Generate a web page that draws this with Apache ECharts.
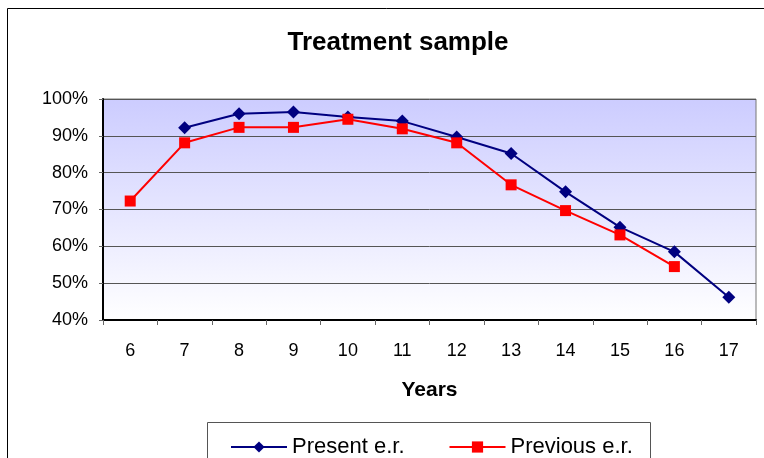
<!DOCTYPE html>
<html><head><meta charset="utf-8">
<script src="https://cdn.jsdelivr.net/npm/echarts@6/dist/echarts.min.js"></script>
<style>html,body{margin:0;padding:0;background:#fff}#c{width:764px;height:458px}</style>
</head><body><div id="c"></div>
<script>
const years = ['6','7','8','9','10','11','12','13','14','15','16','17'];
const presentER = [null, 92.2, 96.0, 96.5, 95.1, 94.0, 89.7, 85.2, 74.8, 65.2, 58.5, 46.2];
const previousER = [72.3, 88.1, 92.3, 92.3, 94.5, 91.9, 88.1, 76.7, 69.7, 63.1, 54.5, null];
const yTicks = [40, 50, 60, 70, 80, 90, 100];

const chart = echarts.init(document.getElementById('c'), null, {renderer: 'canvas'});
const font = 'Liberation Sans, Arial, sans-serif';
chart.setOption({
  animation: false,
  backgroundColor: '#fff',
  title: {
    text: 'Treatment sample', left: 393, top: 25, textAlign: 'center',
    textStyle: {fontFamily: font, fontSize: 26, fontWeight: 'bold', color: '#000'}
  },
  graphic: [
    {type: 'rect', shape: {x: 7.5, y: 8.5, width: 800, height: 500}, style: {fill: 'none', stroke: '#000', lineWidth: 1}, z: -1},
    {type: 'rect', shape: {x: 207.5, y: 422.5, width: 443, height: 60}, style: {fill: 'none', stroke: '#555', lineWidth: 1}, z: 0}
  ],
  legend: {
    left: 225, top: 431, itemGap: 44, itemWidth: 56, itemHeight: 14,
    textStyle: {fontFamily: font, fontSize: 22, color: '#000'},
    data: ['Present e.r.', 'Previous e.r.']
  },
  grid: {
    left: 103, right: 8, top: 99, bottom: 138, show: true,
    borderColor: '#777', borderWidth: 1,
    backgroundColor: new echarts.graphic.LinearGradient(0, 0, 0, 1, [
      {offset: 0, color: '#ccccff'}, {offset: 1, color: '#ffffff'}
    ])
  },
  xAxis: {
    type: 'category', data: years, boundaryGap: true,
    name: 'Years', nameLocation: 'middle', nameGap: 60,
    nameTextStyle: {fontFamily: font, fontSize: 21, fontWeight: 'bold', color: '#000'},
    axisLine: {lineStyle: {color: '#000', width: 2}},
    axisTick: {show: true, inside: false, length: 5, lineStyle: {color: '#666', width: 1}},
    axisLabel: {fontFamily: font, fontSize: 18, color: '#000', margin: 22}
  },
  yAxis: {
    type: 'value', min: 40, max: 100, interval: 10,
    axisLine: {show: true, lineStyle: {color: '#000', width: 2}},
    axisTick: {show: true, length: 4, lineStyle: {color: '#666'}},
    axisLabel: {fontFamily: font, fontSize: 18, color: '#000', margin: 15,
      formatter: v => yTicks.includes(v) ? v + '%' : ''},
    splitLine: {show: true, lineStyle: {color: '#555', width: 1}}
  },
  series: [
    {
      name: 'Present e.r.', type: 'line', data: presentER,
      symbol: 'diamond', symbolSize: 13, connectNulls: false,
      lineStyle: {color: '#000080', width: 2},
      itemStyle: {color: '#000080'}
    },
    {
      name: 'Previous e.r.', type: 'line', data: previousER,
      symbol: 'rect', symbolSize: 11,
      lineStyle: {color: '#ff0000', width: 2},
      itemStyle: {color: '#ff0000'}
    }
  ]
});
</script></body></html>
